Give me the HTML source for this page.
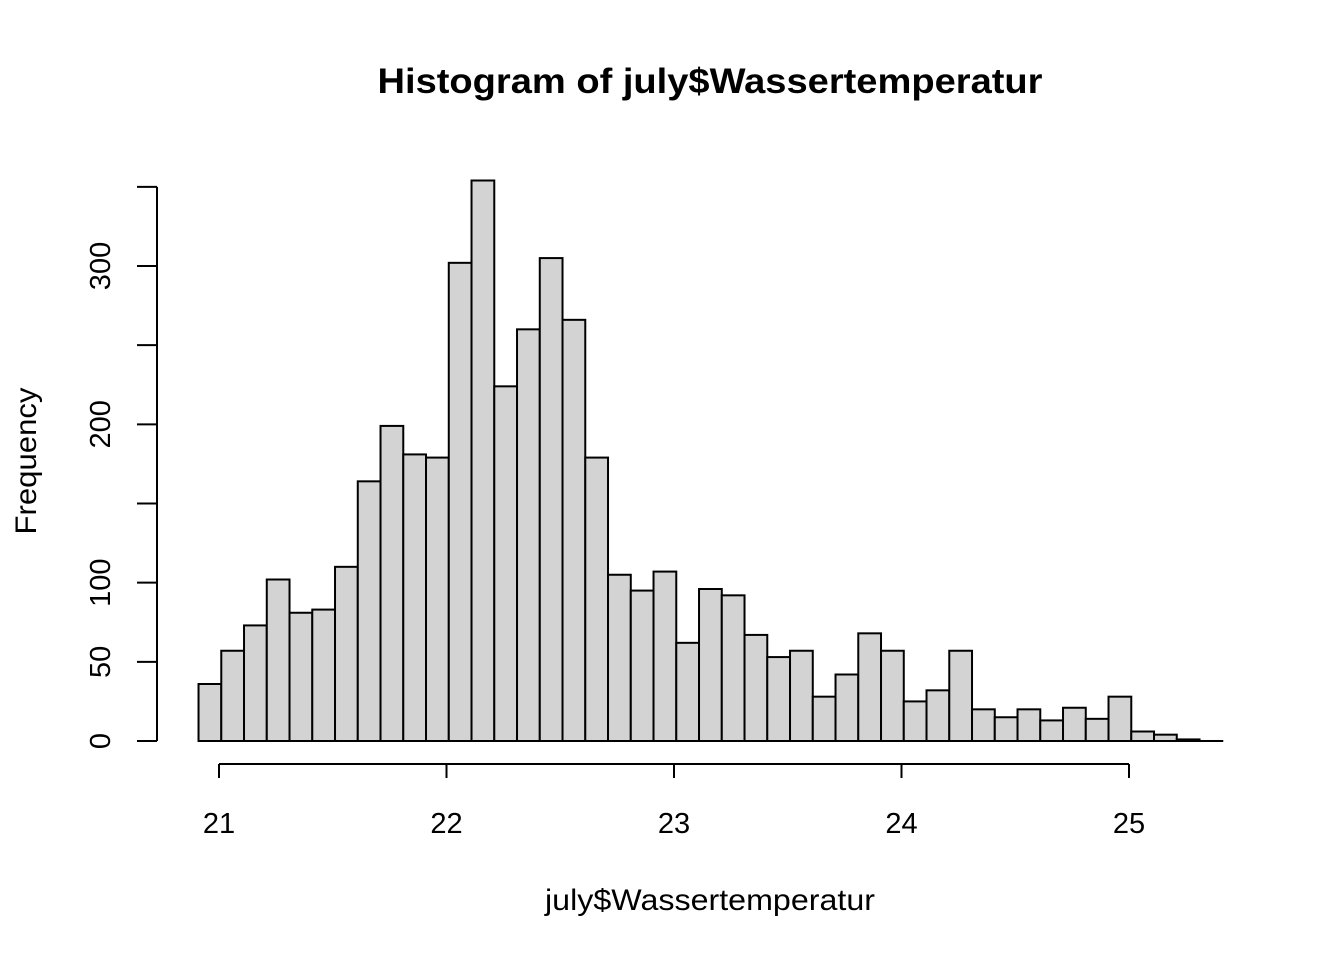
<!DOCTYPE html>
<html><head><meta charset="utf-8"><style>
body{margin:0;background:#fff}
svg text{font-family:"Liberation Sans",sans-serif;fill:#000}
</style></head><body>
<svg id="chart" width="1344" height="960" xmlns="http://www.w3.org/2000/svg">
<text x="710" y="93" text-anchor="middle" font-size="35" font-weight="bold" textLength="665" lengthAdjust="spacingAndGlyphs">Histogram of july$Wassertemperatur</text>
<text x="710" y="910" text-anchor="middle" font-size="30" textLength="330" lengthAdjust="spacingAndGlyphs">july$Wassertemperatur</text>
<text transform="translate(36,461) rotate(-90)" text-anchor="middle" font-size="30" textLength="147" lengthAdjust="spacingAndGlyphs">Frequency</text>
<g id="bars"></g><g id="xaxis"></g><g id="yaxis"></g>
</svg>
<script>
const binStart = 20.91;
const binWidth = 0.1;
const counts = [36,57,73,102,81,83,110,164,199,181,179,302,354,224,260,305,266,179,105,95,107,62,96,92,67,53,57,28,42,68,57,25,32,57,20,15,20,13,21,14,28,6,4,1,0];
const xTicks = [21,22,23,24,25];
const yTicks = [0,50,100,150,200,250,300,350];
const yLabels = ["0","50","100","","200","","300",""];
const NS="http://www.w3.org/2000/svg";
const X=v=>219+(v-21)*227.5;
const Y=v=>741-v*475/300;
function mk(t,a,p){const e=document.createElementNS(NS,t);for(const k in a)e.setAttribute(k,a[k]);p.appendChild(e);return e;}
const bars=document.getElementById('bars');
counts.forEach((c,i)=>{
  const x0=X(binStart+i*binWidth),x1=X(binStart+(i+1)*binWidth);
  const h=Math.max(Y(0)-Y(c),0.01);
  const r=mk('rect',{x:x0,y:Y(0)-h,width:x1-x0,height:h,fill:'#d3d3d3',stroke:'#000','stroke-width':2},bars);
  
  
});
const xa=document.getElementById('xaxis');


mk('line',{x1:X(xTicks[0]),x2:X(xTicks[xTicks.length-1]),y1:764,y2:764,stroke:'#000','stroke-width':2},xa);
xTicks.forEach(t=>{
  mk('line',{x1:X(t),x2:X(t),y1:764,y2:778,stroke:'#000','stroke-width':2},xa);
  const tx=mk('text',{x:X(t),y:833,'text-anchor':'middle','font-size':29},xa);tx.textContent=t;
  
  
});
const ya=document.getElementById('yaxis');


mk('line',{x1:157,x2:157,y1:Y(yTicks[0]),y2:Y(yTicks[yTicks.length-1]),stroke:'#000','stroke-width':2},ya);
yTicks.forEach((t,i)=>{
  mk('line',{x1:137,x2:157,y1:Y(t),y2:Y(t),stroke:'#000','stroke-width':2},ya);
  if(yLabels[i]){const tx=mk('text',{transform:`translate(110,${Y(t)}) rotate(-90)`,'text-anchor':'middle','font-size':29},ya);tx.textContent=yLabels[i];
  
  }
});
</script>
</body></html>
